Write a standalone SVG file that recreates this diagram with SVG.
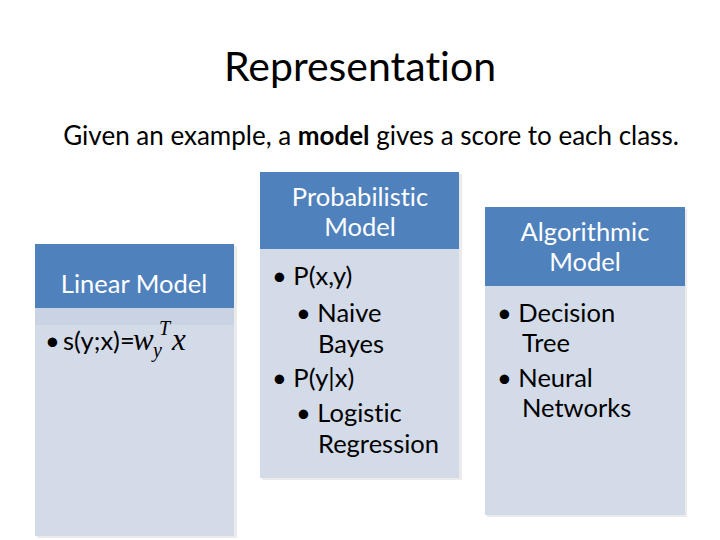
<svg xmlns="http://www.w3.org/2000/svg" width="720" height="540" viewBox="0 0 720 540">
<defs>
<style>
.t{font-family:Lato,"Open Sans","Liberation Sans",sans-serif;fill:#000;font-variant-ligatures:none}
.h{font-family:Lato,"Open Sans","Liberation Sans",sans-serif;fill:#fff;font-size:25.5px;text-anchor:middle;font-variant-ligatures:none}
.b{font-family:Lato,"Open Sans","Liberation Sans",sans-serif;fill:#000;font-size:25.5px;font-variant-ligatures:none}
.m{font-family:"Liberation Serif","DejaVu Serif",serif;font-style:italic;fill:#000}
.hd{fill:#4f81bd}
.bd{fill:#d3dbe8}
.sh{fill:#000;opacity:0.08}
</style>
</defs>
<rect width="720" height="540" fill="#fff"/>
<text class="t" x="360" y="81" font-size="41" text-anchor="middle">Representation</text>
<text class="t" x="371" y="145" font-size="26" text-anchor="middle">Given an example, a <tspan font-weight="bold">model</tspan> gives a score to each class.</text>

<g id="linear">
<rect class="sh" x="37" y="246" width="200" height="292"/>
<rect class="hd" x="35" y="244" width="199" height="64"/>
<rect class="bd" x="35" y="308" width="199" height="228"/>
<rect x="35" y="308" width="199" height="17" fill="#c9d3e4"/>
<text class="h" x="134" y="293">Linear Model</text>
<text class="b" x="45" y="350">•</text>
<text class="b" x="63" y="350" font-size="26.5">s(y;x)=</text>
<text class="m" x="133" y="350" font-size="31">w</text>
<text class="m" x="153" y="357" font-size="20">y</text>
<text class="m" x="159" y="335" font-size="20">T</text>
<text class="m" x="172" y="350" font-size="31">x</text>
</g>

<g id="probabilistic">
<rect class="sh" x="262" y="174" width="200" height="306"/>
<rect class="hd" x="260" y="172" width="199" height="77"/>
<rect class="bd" x="260" y="249" width="199" height="229"/>
<text class="h" x="360" y="206">Probabilistic</text>
<text class="h" x="360" y="236">Model</text>
<text class="b" x="272" y="285">• P(x,y)</text>
<text class="b" x="296" y="322">• Naive</text>
<text class="b" x="318" y="353">Bayes</text>
<text class="b" x="272" y="387">• P(y|x)</text>
<text class="b" x="296" y="422">• Logistic</text>
<text class="b" x="318" y="453">Regression</text>
</g>

<g id="algorithmic">
<rect class="sh" x="487" y="209" width="200" height="308"/>
<rect class="hd" x="485" y="207" width="200" height="79"/>
<rect class="bd" x="485" y="286" width="200" height="229"/>
<text class="h" x="585" y="241">Algorithmic</text>
<text class="h" x="585" y="271">Model</text>
<text class="b" x="497" y="322">• Decision</text>
<text class="b" x="522" y="352">Tree</text>
<text class="b" x="497" y="387">• Neural</text>
<text class="b" x="522" y="417">Networks</text>
</g>
<g id="connectors"></g>
</svg>
